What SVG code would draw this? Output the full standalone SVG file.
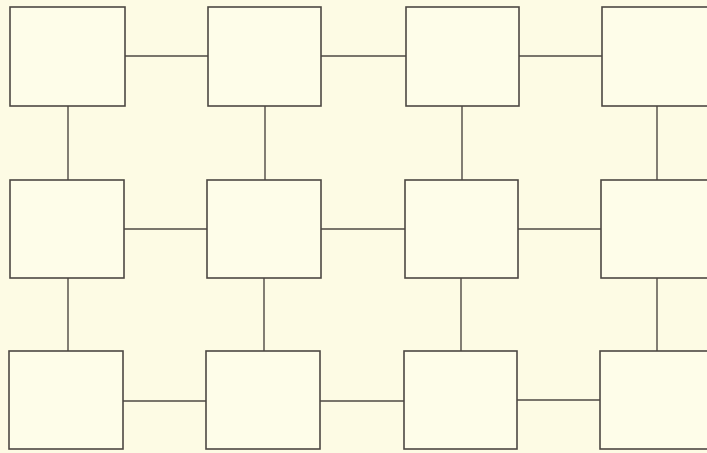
<svg xmlns="http://www.w3.org/2000/svg" width="707" height="453" viewBox="0 0 707 453">
<style>
.n{fill:#fefde9;stroke:#4d4843;stroke-width:1.6}
.c line{stroke:#4d4843;stroke-width:1.4}
</style>
<rect width="707" height="453" fill="#fdfbe4"/>
<g class="c" id="connectors">
<line x1="125" y1="56" x2="208" y2="56"/>
<line x1="321" y1="56" x2="406" y2="56"/>
<line x1="519" y1="56" x2="602" y2="56"/>
<line x1="124" y1="229" x2="207" y2="229"/>
<line x1="321" y1="229" x2="405" y2="229"/>
<line x1="518" y1="229" x2="601" y2="229"/>
<line x1="123" y1="401" x2="206" y2="401"/>
<line x1="320" y1="401" x2="404" y2="401"/>
<line x1="517" y1="400" x2="600" y2="400"/>
<line x1="68" y1="106" x2="68" y2="180"/>
<line x1="265" y1="106" x2="265" y2="180"/>
<line x1="462" y1="106" x2="462" y2="180"/>
<line x1="657" y1="106" x2="657" y2="180"/>
<line x1="68" y1="278" x2="68" y2="351"/>
<line x1="264" y1="278" x2="264" y2="351"/>
<line x1="461" y1="278" x2="461" y2="351"/>
<line x1="657" y1="278" x2="657" y2="351"/>
</g>
<g id="n11"><rect class="n" x="10" y="7" width="115" height="99"/></g>
<g id="n12"><rect class="n" x="208" y="7" width="113" height="99"/></g>
<g id="n13"><rect class="n" x="406" y="7" width="113" height="99"/></g>
<g id="n14"><rect class="n" x="602" y="7" width="113" height="99"/></g>
<g id="n21"><rect class="n" x="10" y="180" width="114" height="98"/></g>
<g id="n22"><rect class="n" x="207" y="180" width="114" height="98"/></g>
<g id="n23"><rect class="n" x="405" y="180" width="113" height="98"/></g>
<g id="n24"><rect class="n" x="601" y="180" width="113" height="98"/></g>
<g id="n31"><rect class="n" x="9" y="351" width="114" height="98"/></g>
<g id="n32"><rect class="n" x="206" y="351" width="114" height="98"/></g>
<g id="n33"><rect class="n" x="404" y="351" width="113" height="98"/></g>
<g id="n34"><rect class="n" x="600" y="351" width="113" height="98"/></g>
</svg>
